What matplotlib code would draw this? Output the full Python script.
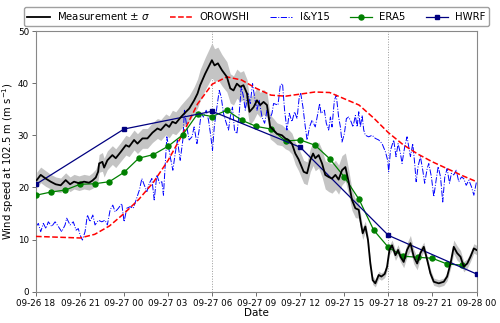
import numpy as np
import pandas as pd
import matplotlib
matplotlib.use("Agg")
import matplotlib.pyplot as plt
import matplotlib.dates as mdates

start = pd.Timestamp("2022-09-26 18:00")

# Measurement (hours since start, value, sigma)
meas_h = [0.05, 0.32, 0.66, 1.00, 1.34, 1.68, 2.02, 2.32, 2.59, 2.93, 3.27, 3.61, 3.84, 4.07,
          4.23, 4.30, 4.52, 4.64, 4.86, 5.20, 5.43, 5.77, 6.12, 6.34, 6.68, 6.91, 7.25, 7.59,
          7.93, 8.27, 8.50, 8.84, 9.07, 9.29, 9.52, 9.87, 10.21, 10.43, 10.77, 11.00, 11.18,
          11.52, 11.75, 11.98, 12.16, 12.39, 12.66, 13.00, 13.23, 13.45, 13.68, 13.91, 14.13,
          14.37, 14.54, 14.82, 15.05, 15.27, 15.50, 15.73, 15.95, 16.18, 16.41, 16.75, 16.98,
          17.20, 17.43, 17.66, 17.88, 18.23, 18.46, 18.68, 18.87, 19.02, 19.25, 19.48, 19.70,
          19.93, 20.16, 20.39, 20.61, 20.84, 21.07, 21.29, 21.52, 21.75, 21.98, 22.09, 22.25,
          22.43, 22.61, 22.77, 22.93, 23.11, 23.34, 23.52, 23.75, 23.91, 24.07, 24.25, 24.48,
          24.66, 24.82, 25.04, 25.27, 25.50, 25.73, 25.96, 26.18, 26.41, 26.64, 26.86, 27.09,
          27.43, 27.77, 28.00, 28.23, 28.45, 28.68, 28.91, 29.13, 29.37, 29.59, 29.82, 30.00]
meas_v = [21.4, 22.4, 21.7, 21.1, 20.6, 20.4, 21.4, 20.6, 21.1, 20.8, 21.1, 20.9, 21.3, 21.9,
          23.0, 24.6, 24.9, 23.8, 25.2, 26.2, 25.6, 26.8, 28.1, 27.8, 29.1, 28.4, 29.4, 29.4,
          30.5, 31.3, 31.0, 32.1, 31.6, 32.6, 32.3, 33.5, 34.5, 35.1, 36.7, 38.0, 39.6,
          41.8, 43.1, 44.4, 43.4, 43.8, 42.5, 41.2, 39.0, 38.6, 39.9, 39.3, 39.6,
          38.0, 34.5, 35.4, 36.7, 35.8, 36.4, 35.8, 31.6, 31.0, 30.3, 30.0, 29.4,
          29.1, 28.4, 26.5, 25.4, 23.0, 22.7, 25.2, 26.5, 25.6, 26.2, 24.6, 22.4,
          22.0, 21.7, 22.4, 21.5, 23.3, 23.9, 21.1, 17.6, 16.0, 15.7, 13.7, 11.2,
          12.5, 9.9, 5.4, 2.2, 1.6, 3.2, 2.9, 3.4, 4.8, 8.0, 8.9, 7.0,
          8.0, 6.7, 5.7, 8.0, 9.3, 6.7, 5.4, 7.4, 8.6, 6.1, 3.5, 1.9,
          1.6, 1.9, 2.9, 5.4, 8.6, 7.4, 6.7, 4.8, 5.4, 6.7, 8.3, 8.0]
meas_s = [1.5, 1.5, 1.5, 1.4, 1.4, 1.4, 1.4, 1.4, 1.4, 1.4, 1.4, 1.4, 1.5, 1.6,
          1.7, 1.7, 1.8, 1.8, 1.8, 1.8, 1.8, 1.8, 1.9, 1.9, 1.9, 1.9, 1.9, 1.9,
          1.9, 1.9, 2.0, 2.0, 2.1, 2.2, 2.2, 2.3, 2.4, 2.5, 2.6, 2.8, 3.0,
          3.1, 3.2, 3.3, 3.2, 3.1, 3.0, 2.9, 2.8, 2.8, 2.8, 2.8, 2.8,
          2.7, 2.6, 2.5, 2.5, 2.4, 2.4, 2.4, 2.3, 2.2, 2.1, 2.0, 2.0,
          2.0, 2.0, 2.1, 2.2, 2.2, 2.2, 2.2, 2.3, 2.4, 2.5, 2.6, 2.7,
          2.8, 2.8, 2.8, 2.8, 2.8, 2.7, 2.4, 2.0, 1.8, 1.6, 1.4, 1.2,
          1.0, 0.9, 0.8, 0.8, 0.7, 0.7, 0.7, 0.7, 0.8, 0.9, 1.0, 1.0,
          1.0, 1.0, 1.1, 1.3, 1.5, 1.4, 1.2, 1.0, 0.9, 0.8, 0.8, 0.7,
          0.7, 0.7, 0.8, 1.0, 1.3, 1.4, 1.2, 1.0, 0.9, 0.9, 0.9, 0.9]

# OROWSHI hourly
oro_v = [10.6, 10.5, 10.4, 10.3, 11.0, 12.6, 15.0, 17.7, 21.0, 25.2, 30.3, 36.0, 39.8, 41.2,
         40.6, 39.0, 37.7, 37.5, 37.9, 38.3, 38.2, 37.0, 35.8, 33.3, 30.5, 28.2, 26.4, 24.9,
         23.6, 22.3, 21.1]

# I&Y15
iy_h = [0.00, 0.16, 0.32, 0.50, 0.68, 0.84, 1.07, 1.30, 1.52, 1.75, 1.98, 2.09, 2.32, 2.54,
        2.73, 2.88, 3.00, 3.16, 3.34, 3.50, 3.68, 3.87, 4.02, 4.25, 4.48, 4.70, 4.86, 5.05,
        5.23, 5.39, 5.61, 5.84, 6.00, 6.18, 6.41, 6.63, 6.82, 7.04, 7.21, 7.38, 7.55, 7.72,
        7.89, 8.05, 8.23, 8.41, 8.57, 8.68, 8.91, 9.14, 9.32, 9.48, 9.63, 9.82, 10.00, 10.11,
        10.27, 10.43, 10.62, 10.77, 10.96, 11.11, 11.25, 11.41, 11.59, 11.75, 11.91, 12.02,
        12.14, 12.32, 12.48, 12.61, 12.77, 12.93, 13.11, 13.23, 13.38, 13.52, 13.68, 13.84,
        13.98, 14.13, 14.25, 14.43, 14.59, 14.75, 14.88, 15.05, 15.20, 15.39, 15.57, 15.73,
        15.89, 16.07, 16.18, 16.48, 16.64, 16.79, 16.93, 17.09, 17.25, 17.43, 17.61, 17.78,
        17.93, 18.03, 18.18, 18.34, 18.46, 18.63, 18.80, 19.02, 19.32, 19.41, 19.64, 19.77,
        19.93, 20.05, 20.16, 20.32, 20.45, 20.61, 20.73, 20.84, 21.00, 21.14, 21.29, 21.46,
        21.59, 21.75, 21.87, 21.98, 22.09, 22.21, 22.32, 22.43, 22.66, 22.89, 23.11, 23.34,
        23.57, 23.80, 23.95, 24.02, 24.14, 24.36, 24.52, 24.66, 24.82, 24.93, 25.11, 25.27,
        25.50, 25.66, 25.79, 25.89, 26.02, 26.18, 26.34, 26.47, 26.64, 26.75, 26.93, 27.09,
        27.25, 27.39, 27.55, 27.70, 27.84, 28.00, 28.16, 28.29, 28.45, 28.62, 28.79, 28.98,
        29.13, 29.30, 29.48, 29.66, 29.82, 29.93, 30.00]
iy_v = [12.5, 13.1, 11.5, 13.1, 12.1, 13.4, 12.5, 13.4, 12.5, 11.5, 12.8, 14.1, 12.8, 13.4,
        11.8, 12.1, 10.9, 9.9, 11.5, 14.7, 13.4, 14.7, 12.8, 13.7, 13.4, 13.7, 12.8, 15.7,
        16.6, 15.3, 16.0, 16.9, 13.4, 16.0, 16.3, 16.0, 17.6, 19.5, 21.7, 20.4, 19.2, 20.8,
        21.7, 17.6, 22.4, 20.8, 21.1, 18.5, 29.7, 25.9, 23.3, 26.5, 29.1, 25.2, 29.1, 34.8,
        31.6, 29.1, 29.7, 31.6, 28.4, 31.0, 34.2, 33.5, 34.8, 32.9, 29.7, 27.1,
        31.6, 35.4, 38.6, 37.4, 34.2, 32.6, 31.0, 33.5, 35.4, 31.0, 30.3, 34.2,
        39.3, 37.4, 34.8, 38.0, 36.1, 39.9, 37.4, 34.8, 36.7, 33.5, 32.3, 34.8,
        32.9, 34.2, 36.1, 35.8, 39.6, 39.9, 34.8, 31.0, 34.2, 32.6, 34.5, 33.2,
        37.4, 38.0, 35.4, 31.6, 29.1, 31.6, 32.9, 31.6, 36.1, 34.2, 34.8, 32.3,
        31.0, 33.5, 31.6, 36.7, 37.7, 33.5, 31.6, 28.7, 30.3, 33.2, 33.5, 32.6,
        31.6, 33.8, 31.6, 34.5, 31.6, 33.8, 31.0, 30.0, 29.7, 30.0, 29.4, 29.1,
        28.4, 26.8, 25.2, 23.0, 27.1, 29.1, 25.9, 28.4, 26.5, 24.6, 27.8, 29.7,
        25.9, 28.4, 24.6, 21.1, 24.0, 25.9, 23.3, 20.8, 23.6, 24.6, 22.0, 18.2,
        21.4, 24.0, 22.0, 17.2, 22.0, 23.6, 20.8, 22.7, 22.4, 23.3, 21.1, 22.0,
        21.7, 20.4, 21.4, 20.1, 18.5, 20.1, 21.1]

# ERA5 hourly (18:00 -> 23:00 next day)
era5_v = [18.5, 19.1, 19.5, 20.6, 20.7, 21.1, 22.9, 25.6, 26.3, 27.9, 30.1, 34.1, 33.6, 34.8,
          32.9, 31.7, 31.2, 28.9, 29.1, 28.1, 25.5, 22.0, 17.7, 11.8, 8.5, 6.8, 6.6, 6.4,
          5.3, 5.1]

# HWRF 6-hourly
hwrf_v = [20.6, 31.2, 34.6, 27.7, 10.8, 3.4]

def to_time(hours):
    return start + pd.to_timedelta(np.asarray(hours), unit="h")

meas_t = to_time(meas_h)
iy_t = to_time(iy_h)
oro_t = pd.date_range(start, periods=len(oro_v), freq="h")
era5_t = pd.date_range(start, periods=len(era5_v), freq="h")
hwrf_t = pd.date_range(start, periods=len(hwrf_v), freq="6h")

plt.rcParams['font.family'] = ['DejaVu Sans']
fig = plt.figure(figsize=(5.0, 3.23), dpi=100)
ax = fig.add_axes([0.072, 0.097, 0.881, 0.807])

mv = np.array(meas_v)
ms = np.array(meas_s)
ax.fill_between(meas_t, mv - ms, mv + ms, color='#c4c4c4', lw=0, zorder=1)
ax.plot(oro_t, oro_v, color='red', ls='--', lw=1.1, label='OROWSHI', zorder=3)
ax.plot(iy_t, iy_v, color='blue', ls='-.', lw=0.7, label='I&Y15', zorder=2)
ax.plot(era5_t, era5_v, color='green', marker='o', ms=3.6, lw=0.9, label='ERA5', zorder=4)
ax.plot(hwrf_t, hwrf_v, color='navy', marker='s', ms=3.4, lw=0.9, label='HWRF', zorder=4)
ax.plot(meas_t, meas_v, color='black', lw=1.3, label=r'Measurement $\pm$ $\sigma$', zorder=5)

for vt in [pd.Timestamp("2022-09-27 06:00"), pd.Timestamp("2022-09-27 18:00")]:
    ax.axvline(vt, color='#999999', ls=':', lw=0.7, zorder=0)

ax.set_xlim(start, start + pd.Timedelta(hours=30))
ax.set_ylim(0, 50)
ax.set_yticks([0, 10, 20, 30, 40, 50])
ax.xaxis.set_major_locator(mdates.HourLocator(byhour=[0, 3, 6, 9, 12, 15, 18, 21]))
ax.xaxis.set_major_formatter(mdates.DateFormatter('%m-%d %H'))
ax.tick_params(labelsize=6.3, length=3, width=0.6, color='#555555', pad=2)
for sp in ax.spines.values():
    sp.set_color('#888888')
    sp.set_linewidth(0.8)
ax.set_xlabel('Date', fontsize=7.5, labelpad=0)
ax.set_ylabel(r'Wind speed at 102.5 m (m s$^{-1}$)', fontsize=7.2)
ax.yaxis.set_label_coords(-0.046, 0.5)

handles, labels = ax.get_legend_handles_labels()
order = [4, 0, 1, 2, 3]
fig.legend([handles[i] for i in order], [labels[i] for i in order],
           loc='upper center', bbox_to_anchor=(0.513, 0.995), ncol=5, fontsize=7.3,
           frameon=True, edgecolor='#888888', handlelength=2.2, columnspacing=2.0,
           borderpad=0.35, handletextpad=0.7)

fig.savefig('out.png', dpi=100)
